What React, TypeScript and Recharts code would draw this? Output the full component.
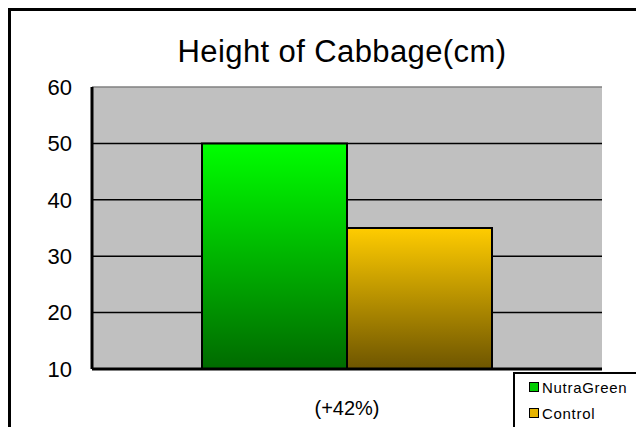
import {
  BarChart,
  Bar,
  XAxis,
  YAxis,
  CartesianGrid,
  ReferenceLine,
} from "recharts";

const categories = ["(+42%)"];
const nutraGreen = [50];
const control = [35];
const yTicks = [10, 20, 30, 40, 50, 60];
const gridValues = [20, 30, 40, 50];

const data = categories.map((name, i) => ({
  name,
  nutraGreen: nutraGreen[i],
  control: control[i],
}));

const FONT = "Arial, 'Liberation Sans', sans-serif";

const legendItems = [
  { label: "NutraGreen", color: "#00cc00" },
  { label: "Control", color: "#e6b400" },
];

// legend drawn as plain html so the chart does not reserve room for it
const LegendBox = () => (
  <div
    style={{
      position: "absolute",
      left: 502,
      top: 361,
      width: 125,
      height: 70,
      boxSizing: "border-box",
      border: "2px solid #000",
      background: "#fff",
      paddingLeft: 14,
      paddingTop: 0,
      fontFamily: FONT,
      fontSize: 15,
      letterSpacing: 0.7,
      color: "#000",
      zIndex: 2,
    }}
  >
    {legendItems.map((it) => (
      <div
        key={it.label}
        style={{ display: "flex", alignItems: "center", height: 26 }}
      >
        <span
          style={{
            display: "inline-block",
            width: 10,
            height: 10,
            boxSizing: "border-box",
            border: "1.5px solid #000",
            background: it.color,
            marginRight: 3,
          }}
        />
        <span>{it.label}</span>
      </div>
    ))}
  </div>
);

const XTick = (props: any) => {
  const { x, y, payload } = props;
  return (
    <text
      x={x}
      y={y + 46}
      textAnchor="middle"
      fontFamily={FONT}
      fontSize={20}
      fill="#000"
    >
      {payload.value}
    </text>
  );
};

export default function App() {
  return (
    <div
      style={{
        position: "relative",
        width: 636,
        height: 419,
        boxSizing: "border-box",
        borderTop: "3px solid #000",
        borderLeft: "3px solid #000",
        overflow: "hidden",
        background: "#fff",
      }}
    >
      <div
        style={{
          position: "absolute",
          left: 81,
          top: 25,
          width: 500,
          textAlign: "center",
          fontFamily: FONT,
          fontSize: 31,
          letterSpacing: 0.4,
          lineHeight: 1,
          color: "#000",
          zIndex: 2,
        }}
      >
        Height of Cabbage(cm)
      </div>
      <BarChart
        width={640}
        height={420}
        data={data}
        margin={{ top: 76, right: 49, bottom: 22, left: 0 }}
        barGap={0}
        barSize={145}
      >
        <defs>
          <linearGradient id="gradGreen" x1="0" y1="0" x2="0" y2="1">
            <stop offset="0%" stopColor="#00ff00" />
            <stop offset="100%" stopColor="#006a00" />
          </linearGradient>
          <linearGradient id="gradGold" x1="0" y1="0" x2="0" y2="1">
            <stop offset="0%" stopColor="#ffcc00" />
            <stop offset="100%" stopColor="#6e5500" />
          </linearGradient>
        </defs>
        <CartesianGrid
          vertical={false}
          horizontalValues={gridValues}
          stroke="#000"
          strokeWidth={1.5}
          fill="#c0c0c0"
          fillOpacity={1}
        />
        <XAxis
          dataKey="name"
          height={40}
          tickSize={0}
          tickMargin={0}
          tick={<XTick />}
          axisLine={{ stroke: "#000", strokeWidth: 3 }}
          tickLine={false}
        />
        <YAxis
          width={81}
          domain={[10, 60]}
          ticks={yTicks}
          interval={0}
          tickSize={0}
          tickMargin={20}
          tickLine={false}
          axisLine={{ stroke: "#000", strokeWidth: 3 }}
          tick={{ fontFamily: FONT, fontSize: 22, fill: "#000" }}
        />
        <YAxis
          yAxisId="right"
          orientation="right"
          width={0}
          domain={[10, 60]}
          tick={false}
          tickLine={false}
          axisLine={{ stroke: "#808080", strokeWidth: 1.5 }}
        />
        <ReferenceLine y={60} stroke="#808080" strokeWidth={1.5} />
        <Bar
          dataKey="nutraGreen"
          name="NutraGreen"
          fill="url(#gradGreen)"
          stroke="#000"
          strokeWidth={2}
          isAnimationActive={false}
        />
        <Bar
          dataKey="control"
          name="Control"
          fill="url(#gradGold)"
          stroke="#000"
          strokeWidth={2}
          isAnimationActive={false}
        />
      </BarChart>
      <LegendBox />
    </div>
  );
}
